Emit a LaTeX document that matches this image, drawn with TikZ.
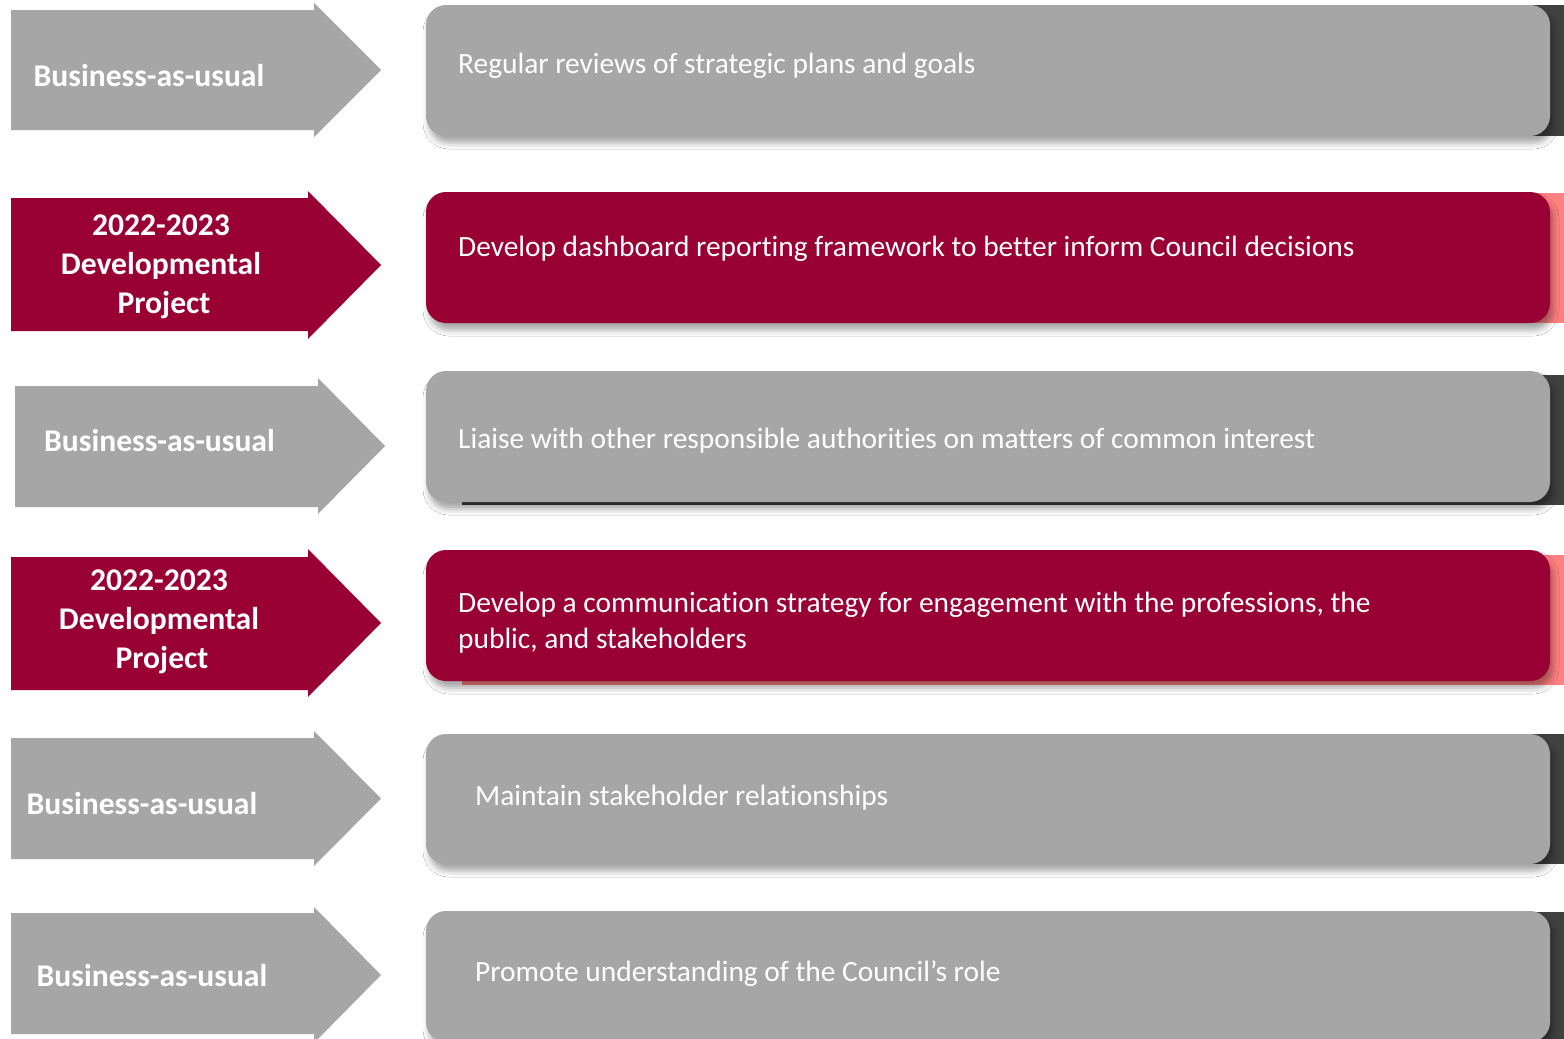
\documentclass[tikz,border=0pt]{standalone}
\usepackage{fontspec}
\setmainfont{Carlito}[Ligatures={NoCommon}]
\usetikzlibrary{shadows.blur}
\definecolor{bauGray}{HTML}{A6A6A6}
\definecolor{devRed}{HTML}{990033}
\definecolor{backDark}{HTML}{404040}
\definecolor{backPink}{HTML}{FF8080}
\tikzset{
  arrowbau/.style={fill=bauGray, draw=none},
  arrowdev/.style={fill=devRed, draw=none},
  backbau/.style={fill=backDark, draw=none},
  backdev/.style={fill=backPink, draw=none},
  boxshadow/.style={blur shadow={shadow xshift=3pt, shadow yshift=-7pt, shadow blur radius=6pt, shadow opacity=35}},
  boxbau/.style={fill=bauGray, draw=none, rounded corners=20pt, boxshadow},
  boxdev/.style={fill=devRed, draw=none, rounded corners=20pt, boxshadow},
  labeltext/.style={text=white, inner sep=0pt, align=center, anchor=base,
    font=\bfseries\fontsize{31.6}{38.7}\selectfont},
  boxtext/.style={text=white, inner sep=0pt, anchor=base west, align=left,
    font=\fontsize{29.4}{36}\selectfont},
}
\begin{document}
\begin{tikzpicture}[x=1pt, y=-1pt]
\path[use as bounding box, clip] (0,0) rectangle (1564,1039);
\fill[white] (0,0) rectangle (1564,1039);

% ---------- arrows
\fill[arrowbau] (11,10) -- (314,10) -- (314,3) -- (381,70) -- (314,137) -- (314,130) -- (11,130) -- cycle;
\fill[arrowdev] (11,198) -- (308,198) -- (308,191) -- (381,265) -- (308,339) -- (308,331) -- (11,331) -- cycle;
\fill[arrowbau] (15,386) -- (318,386) -- (318,378) -- (385,446) -- (318,514) -- (318,507) -- (15,507) -- cycle;
\fill[arrowdev] (11,557) -- (308,557) -- (308,549) -- (381,623) -- (308,697) -- (308,690) -- (11,690) -- cycle;
\fill[arrowbau] (11,738) -- (314,738) -- (314,731) -- (381,798.5) -- (314,866) -- (314,859) -- (11,859) -- cycle;
\fill[arrowbau] (11,913) -- (314,913) -- (314,907) -- (381,975) -- (314,1043) -- (314,1034) -- (11,1034) -- cycle;

% ---------- arrow labels (multi-line: base = last line)
\node[labeltext] (l1) at (149,86) {Business-as-usual};
\node[labeltext] (l2) at (161,313) {2022-2023\\Developmental\\\hspace*{6pt}Project};
\node[labeltext] (l3) at (159.5,451) {Business-as-usual};
\node[labeltext] (l4) at (159,668) {2022-2023\\Developmental\\\hspace*{6pt}Project};
\node[labeltext] (l5) at (142,814) {Business-as-usual};
\node[labeltext] (l6) at (152,986) {Business-as-usual};

% ---------- Row 1
\fill[backbau] (462,5) rectangle (1575,136);
\fill[boxbau] (426,5) rectangle (1550,136);
\node[boxtext] (t1) at (458,73) {Regular reviews of strategic plans and goals};

% ---------- Row 2
\fill[backdev] (462,193) rectangle (1575,323);
\fill[boxdev] (426,192) rectangle (1550,323);
\node[boxtext] (t2) at (458,256) {Develop dashboard reporting framework to better inform Council decisions};

% ---------- Row 3
\fill[backbau] (462,375) rectangle (1575,505);
\fill[boxbau] (426,371) rectangle (1550,502);
\node[boxtext] (t3) at (458,448) {Liaise with other responsible authorities on matters of common interest};

% ---------- Row 4
\fill[backdev] (462,555) rectangle (1575,685);
\fill[boxdev] (426,550) rectangle (1550,681);
\node[boxtext] (t4) at (458,648) {Develop a communication strategy for engagement with the professions, the\\public, and stakeholders};

% ---------- Row 5
\fill[backbau] (462,734) rectangle (1575,864);
\fill[boxbau] (426,734) rectangle (1550,864);
\node[boxtext] (t5) at (475,805) {Maintain stakeholder relationships};

% ---------- Row 6
\fill[backbau] (462,912) rectangle (1575,1060);
\fill[boxbau] (426,911) rectangle (1550,1042);
\node[boxtext] (t6) at (475,981) {Promote understanding of the Council’s role};
\end{tikzpicture}
\end{document}
